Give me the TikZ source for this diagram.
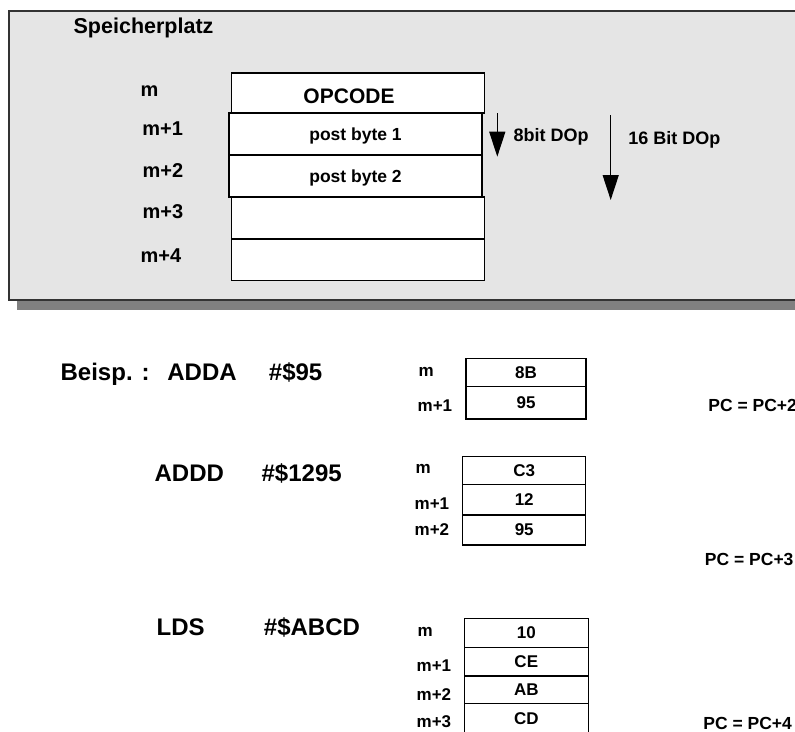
\documentclass[tikz,border=0pt]{standalone}
\usepackage{fontspec}
\setmainfont{Liberation Sans}
\usepackage{tikz}
\usetikzlibrary{positioning}
\usetikzlibrary{arrows.meta}
\definecolor{panelgray}{HTML}{E5E5E5}
\definecolor{shadowgray}{HTML}{808080}
\newcommand{\fsz}[1]{\bfseries\fontsize{#1}{#1}\selectfont}

\begin{document}
\begin{tikzpicture}[x=1pt, y=-1pt, line width=1.3pt,
    txt/.style={inner sep=0pt, anchor=base west},
    cell/.style={draw, fill=white, inner sep=0pt, text depth=0pt},
    bigcell/.style={cell, minimum width=253pt, minimum height=42pt},
    bytecell/.style={cell, minimum width=121pt, font=\fsz{17}},
    dop/.style={-{Triangle[length=25pt, width=16pt]}}]

    \useasboundingbox (0,0) rectangle (795,731);
    \clip (0,0) rectangle (795,731);

    % Speicher panel with shadow
    \fill[shadowgray] (17,21) rectangle (820,310);
    \filldraw[fill=panelgray, draw=black!80] (9,11) rectangle (812,300);

    \node[txt, font=\fsz{21.5}] (title) at (73,33.5) {Speicherplatz};

    % memory cells
    \node[bigcell, minimum height=40pt] (op) at (357.9,93) {};
    \node[txt, font=\fsz{21}, anchor=base] (optxt) at (349,103.3) {OPCODE};
    \node[bigcell, font=\fsz{17.5}] (pb1) at (355.5,134) {post byte 1};
    \node[bigcell, font=\fsz{17.5}] (pb2) at (355.5,176) {post byte 2};
    \node[bigcell] (c3) at (358.1,218) {};
    \node[bigcell, minimum height=41.7pt] (c4) at (358.1,259.9) {};

    % addresses
    \node[txt, font=\fsz{20}] (a0) at (140,96) {m};
    \node[txt, font=\fsz{20}] (a1) at (141.7,135.5) {m+1};
    \node[txt, font=\fsz{20}] (a2) at (142,177) {m+2};
    \node[txt, font=\fsz{20}] (a3) at (142,218.5) {m+3};
    \node[txt, font=\fsz{20}] (a4) at (140,262) {m+4};

    % direction of the operand
    \coordinate (s8) at (497.3,113.3);
    \coordinate (e8) at (497.3,156.7);
    \coordinate (s16) at (610.7,115);
    \coordinate (e16) at (610.7,200);
    \draw[dop] (s8) -- (e8);
    \draw[dop] (s16) -- (e16);
    \node[txt, font=\fsz{18}] (l8) at (513,141.7) {8bit DOp};
    \node[txt, font=\fsz{18}] (l16) at (627.7,144.3) {16 Bit DOp};

    % Beispiel 1
    \node[txt, font=\fsz{24}] (bsp) at (60,380) {Beisp. :};
    \node[txt, font=\fsz{24}] (i1) at (166.7,380) {ADDA};
    \node[txt, font=\fsz{24}] (o1) at (268.3,380) {\#\$95};
    \node[bytecell, minimum width=120pt, minimum height=28.4pt] (x1a) at (526,372.5) {8B};
    \node[bytecell, minimum width=120pt, minimum height=32.3pt] (x1b) at (526,402.9) {95};
    \node[txt, font=\fsz{17}] at (418,376) {m};
    \node[txt, font=\fsz{17}] at (417,411.7) {m+1};
    \node[txt, font=\fsz{17.5}] (pc2) at (707.7,411.7) {PC = PC+2};

    % Beispiel 2
    \node[txt, font=\fsz{24}] (i2) at (154,481.7) {ADDD};
    \node[txt, font=\fsz{24}] (o2) at (261,481.7) {\#\$1295};
    \node[bytecell, minimum width=123pt, minimum height=27.6pt] (x2a) at (524.2,470.5) {C3};
    \node[bytecell, minimum width=123pt, minimum height=30.7pt] (x2b) at (524.2,499.7) {12};
    \node[bytecell, minimum width=123pt, minimum height=30pt] (x2c) at (524.2,530) {95};
    \node[txt, font=\fsz{17}] at (415,473.3) {m};
    \node[txt, font=\fsz{17}] at (414,509.3) {m+1};
    \node[txt, font=\fsz{17}] at (414,535) {m+2};
    \node[txt, font=\fsz{17.5}] (pc3) at (704.3,565) {PC = PC+3};

    % Beispiel 3
    \node[txt, font=\fsz{24}] (i3) at (156,635) {LDS};
    \node[txt, font=\fsz{24}] (o3) at (263.3,635) {\#\$ABCD};
    \node[bytecell, minimum width=124pt, minimum height=29pt] (x3a) at (526.3,632.8) {10};
    \node[bytecell, minimum width=124pt, minimum height=28.7pt] (x3b) at (526.3,661.7) {CE};
    \node[bytecell, minimum width=124pt, minimum height=27.7pt] (x3c) at (526.3,689.9) {AB};
    \node[bytecell, minimum width=124pt, minimum height=30.6pt] (x3d) at (526.3,719) {CD};
    \node[txt, font=\fsz{17}] at (417,636) {m};
    \node[txt, font=\fsz{17}] at (416,671.7) {m+1};
    \node[txt, font=\fsz{17}] at (416,700) {m+2};
    \node[txt, font=\fsz{17}] at (416,727.3) {m+3};
    \node[txt, font=\fsz{17.5}] (pc4) at (702.7,729.5) {PC = PC+4};

\end{tikzpicture}
\end{document}
